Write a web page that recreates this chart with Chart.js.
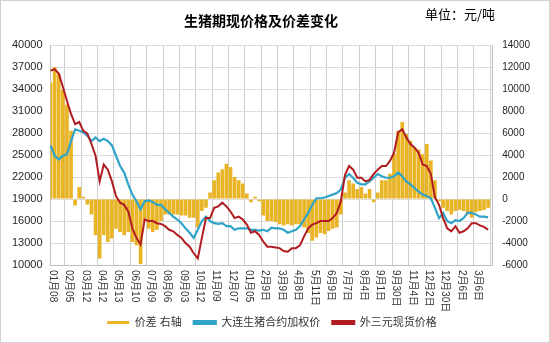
<!DOCTYPE html>
<html>
<head>
<meta charset="utf-8">
<script src="https://cdn.jsdelivr.net/npm/chart.js@4.4.0/dist/chart.umd.min.js"></script>
<style>
  html, body { margin: 0; padding: 0; background: #fff; }
  #wrap { width: 550px; height: 343px; position: relative; }
</style>
</head>
<body>
<div id="wrap"><canvas id="priceChart"></canvas></div>
<script>
// tick labels shown every 4th point (weekly points)
const tickLabels = ['01月08', '02月05', '03月12', '04月12', '05月13', '06月10', '07月09', '08月06', '09月03',
  '10月12', '11月09', '12月07', '01月05', '2月9日', '3月9日', '4月8日', '5月11日', '6月9日', '7月7日',
  '8月4日', '9月1日', '9月30日', '11月4日', '12月2日', '12月30日', '2月6日', '3月6日'];

// 价差 (right axis)
const spread = [
  10600, 12000, 11400, 9900, 8600, 6200, -600, 1100, 200, -500,
  -1400, -3300, -5400, -3300, -3900, -3600, -2700, -3000, -3300, -3000,
  -3900, -4200, -5900, -2000, -2700, -3000, -2800, -2000, -1400, -1400,
  -1400, -1400, -1500, -1500, -1700, -1700, -2600, -1100, -800, 600,
  1700, 2400, 2700, 3200, 2900, 2000, 1700, 1400, 500, -300,
  200, -200, -1500, -2000, -2000, -2100, -2300, -2400, -2300, -2400,
  -2300, -2300, -2600, -3100, -3800, -3500, -3100, -3200, -2900, -2700,
  -2600, -1400, 600, 1700, 1400, 900, 1100, 500, 900, -300,
  600, 1700, 1700, 2300, 4100, 6200, 7000, 5900, 5300, 4700,
  4500, 4100, 5000, 3500, 1700, -200, -800, -1100, -1400, -1100,
  -1000, -1100, -1400, -1700, -1200, -1100, -1000, -800
];

// 大连生猪合约加权价
const dalianFutures = [
  26300, 24900, 24400, 24900, 25100, 26900, 28500, 28300, 28100, 27600,
  26900, 27400, 26900, 27200, 26900, 26300, 24900, 23500, 22600, 21000,
  19600, 18700, 17600, 18700, 18800, 18600, 18200, 18200, 17600, 17100,
  16600, 16200, 15700, 15000, 14400, 13700, 14800, 16000, 16600, 16000,
  15700, 15600, 15700, 15300, 15300, 14800, 15000, 15000, 15000, 14800,
  14800, 14700, 14800, 14600, 15100, 15000, 15000, 14800, 14400, 14600,
  14800, 15300, 16200, 17100, 18200, 19100, 19100, 19200, 19400, 19600,
  19800, 20300, 21900, 22400, 21900, 21200, 21000, 21000, 21400, 21900,
  22400, 22100, 21900, 21900, 22100, 22600, 22100, 21400, 21000, 20500,
  20000, 19600, 19400, 19100, 17800, 16400, 17100, 16000, 15700, 16100,
  16000, 16400, 17100, 17100, 16900, 16600, 16600, 16500
];

// 外三元现货价格
const spotPrice = [
  36500, 36700, 36100, 34300, 32400, 30600, 29200, 29500, 28300, 27900,
  26500, 24900, 21400, 23700, 23000, 21400, 19400, 18500, 18200, 17300,
  15000, 13700, 12800, 16200, 16000, 16000, 15700, 15600, 15300, 14800,
  14600, 14100, 13700, 13000, 12500, 11600, 10900, 13700, 16400, 16400,
  17800, 18000, 18500, 18000, 17300, 16400, 16600, 16200, 15500, 14400,
  14600, 14100, 13200, 12500, 12500, 12400, 12300, 11900, 11800, 12300,
  12300, 12700, 13900, 15000, 15500, 15700, 16000, 16000, 16000, 16400,
  17100, 18700, 22300, 23500, 23000, 21900, 21900, 21400, 21600, 22400,
  23000, 23500, 23500, 24200, 25300, 28100, 28500, 27400, 26500, 26000,
  25300, 23700, 23500, 22400, 19200, 18200, 16400, 15000, 14600, 15300,
  14400, 14600, 15000, 15700, 15700, 15400, 15200, 14800
];

const POINTS_PER_TICK = 4;
const categories = [];
for (let i = 0; i < tickLabels.length * POINTS_PER_TICK + 1; i++) {
  categories.push(i % POINTS_PER_TICK === 0 && tickLabels[i / POINTS_PER_TICK] ? tickLabels[i / POINTS_PER_TICK] : '');
}

const FONT = '"Liberation Sans", "Noto Sans CJK SC", sans-serif';
const corSpread = '#E9B526';
const corDalian = '#2FA4C8';
const corSpot = '#B01C20';

Chart.defaults.font.family = FONT;

// fundo branco, moldura, título e rótulos verticais do eixo x
const decorPlugin = {
  id: 'decor',
  beforeDraw(chart) {
    const ctx = chart.ctx;
    ctx.save();
    ctx.fillStyle = '#fff';
    ctx.fillRect(0, 0, chart.width, chart.height);
    ctx.restore();
  },
  afterDraw(chart) {
    const ctx = chart.ctx;
    const xs = chart.scales.x;
    ctx.save();
    ctx.strokeStyle = '#d0d0d0';
    ctx.lineWidth = 1;
    ctx.strokeRect(0.5, 0.5, chart.width - 1, chart.height - 1);

    ctx.fillStyle = '#000';
    ctx.textBaseline = 'middle';
    ctx.textAlign = 'center';
    ctx.font = 'bold 14px "Noto Sans CJK SC", sans-serif';
    ctx.fillText('生猪期现价格及价差变化', 261, 21);
    ctx.textAlign = 'left';
    ctx.font = '13px "Noto Sans CJK SC", sans-serif';
    ctx.fillText('单位：元/吨', 425, 14);

    ctx.fillStyle = '#333';
    ctx.font = '10px ' + FONT;
    categories.forEach((lab, i) => {
      if (!lab) return;
      ctx.save();
      ctx.translate(xs.getPixelForValue(i) + 2, xs.top + 5);
      ctx.rotate(Math.PI / 2);
      ctx.fillText(lab, 0, 0);
      ctx.restore();
    });
    ctx.restore();
  }
};

new Chart(document.getElementById('priceChart'), {
  data: {
    labels: categories,
    datasets: [
      {
        type: 'bar',
        label: '价差 右轴',
        data: spread,
        yAxisID: 'y1',
        backgroundColor: corSpread,
        borderWidth: 0,
        barPercentage: 0.9,
        categoryPercentage: 1,
        order: 3
      },
      {
        type: 'line',
        label: '大连生猪合约加权价',
        data: dalianFutures,
        yAxisID: 'y',
        borderColor: corDalian,
        backgroundColor: corDalian,
        borderWidth: 2.2,
        pointRadius: 0,
        tension: 0,
        order: 2
      },
      {
        type: 'line',
        label: '外三元现货价格',
        data: spotPrice,
        yAxisID: 'y',
        borderColor: corSpot,
        backgroundColor: corSpot,
        borderWidth: 2,
        pointRadius: 0,
        tension: 0,
        order: 1
      }
    ]
  },
  options: {
    responsive: true,
    maintainAspectRatio: false,
    animation: false,
    layout: { padding: { top: 45, left: 4, right: 10, bottom: 5 } },
    plugins: {
      legend: {
        position: 'bottom',
        labels: {
          boxWidth: 22,
          boxHeight: 3,
          padding: 12,
          color: '#333',
          font: { size: 11 },
          sort: (a, b) => a.datasetIndex - b.datasetIndex
        }
      },
      tooltip: { enabled: false },
      title: { display: false }
    },
    scales: {
      x: {
        offset: false,
        grid: {
          color: (c) => (c.index % POINTS_PER_TICK === 0 ? '#cfcfcf' : 'rgba(0,0,0,0)'),
          drawTicks: false
        },
        border: { color: '#bfbfbf' },
        ticks: { display: false },
        afterFit: (scale) => { scale.height = 40; }
      },
      y: {
        position: 'left',
        min: 10000,
        max: 40000,
        grid: { color: '#dcdcdc', drawTicks: false },
        border: { color: '#bfbfbf' },
        ticks: { stepSize: 3000, padding: 8, color: '#262626', font: { size: 11 }, callback: (v) => String(v) }
      },
      y1: {
        position: 'right',
        min: -6000,
        max: 14000,
        grid: { drawOnChartArea: false, drawTicks: false },
        border: { color: '#bfbfbf' },
        ticks: { stepSize: 2000, padding: 10, color: '#262626', font: { size: 10 }, callback: (v) => String(v) }
      }
    }
  },
  plugins: [decorPlugin]
});
</script>
</body>
</html>
